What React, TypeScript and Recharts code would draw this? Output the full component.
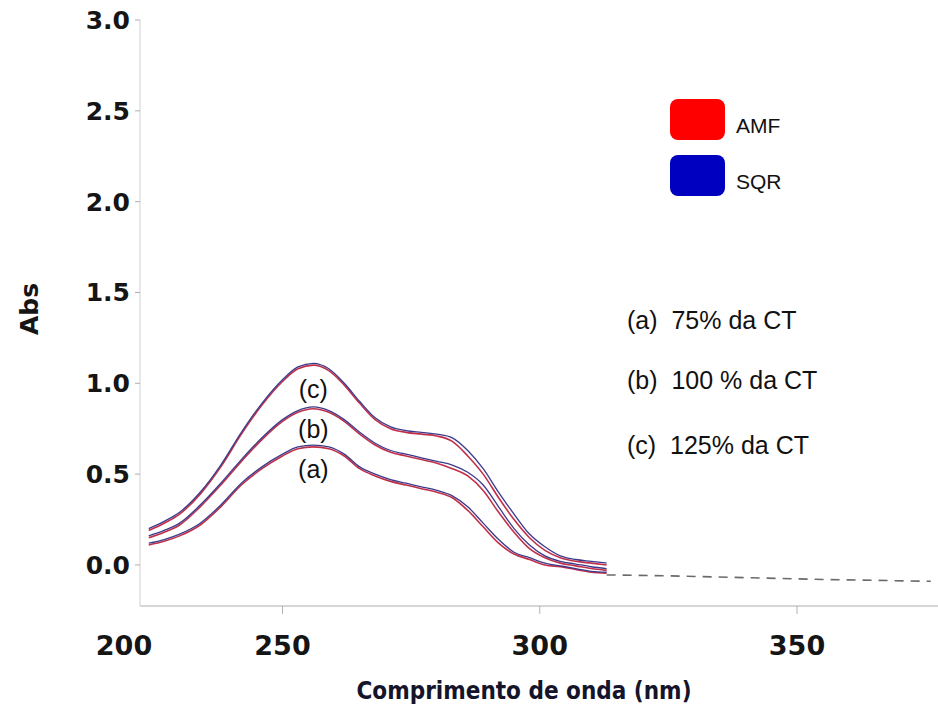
import React from 'react';
import { LineChart, Line, XAxis, YAxis, ReferenceDot, Label } from 'recharts';

// UV spectra (absorbance vs wavelength) at three concentrations, two solutions each
const WAVELENGTH = [224, 227, 230, 234, 238, 242, 246, 250, 253, 256, 259, 262, 265, 268, 271, 274, 277, 280, 283, 286, 289, 292, 295, 298, 301, 304, 307, 310, 313];

const AMF_A = [0.11, 0.13, 0.16, 0.22, 0.32, 0.44, 0.53, 0.60, 0.64, 0.65, 0.64, 0.60, 0.53, 0.49, 0.46, 0.44, 0.42, 0.40, 0.37, 0.30, 0.21, 0.12, 0.06, 0.03, 0.00, -0.01, -0.025, -0.04, -0.045];
const SQR_A = [0.12, 0.14, 0.17, 0.23, 0.33, 0.45, 0.54, 0.61, 0.65, 0.66, 0.65, 0.61, 0.54, 0.50, 0.47, 0.45, 0.43, 0.41, 0.38, 0.32, 0.23, 0.14, 0.07, 0.04, 0.01, -0.005, -0.02, -0.035, -0.04];

const AMF_B = [0.15, 0.18, 0.22, 0.32, 0.44, 0.57, 0.69, 0.79, 0.84, 0.86, 0.84, 0.79, 0.72, 0.66, 0.62, 0.60, 0.58, 0.56, 0.53, 0.49, 0.41, 0.29, 0.18, 0.09, 0.04, 0.01, -0.005, -0.02, -0.03];
const SQR_B = [0.16, 0.19, 0.23, 0.33, 0.45, 0.58, 0.70, 0.80, 0.85, 0.87, 0.85, 0.80, 0.73, 0.67, 0.63, 0.61, 0.59, 0.57, 0.55, 0.51, 0.44, 0.32, 0.20, 0.11, 0.05, 0.02, 0.005, -0.01, -0.02];

const AMF_C = [0.19, 0.23, 0.28, 0.39, 0.54, 0.72, 0.88, 1.01, 1.08, 1.10, 1.07, 0.99, 0.89, 0.80, 0.75, 0.73, 0.72, 0.71, 0.68, 0.60, 0.50, 0.37, 0.25, 0.15, 0.08, 0.04, 0.02, 0.01, 0.00];
const SQR_C = [0.20, 0.24, 0.29, 0.40, 0.55, 0.73, 0.89, 1.02, 1.09, 1.11, 1.08, 1.00, 0.90, 0.81, 0.76, 0.74, 0.73, 0.72, 0.70, 0.63, 0.53, 0.40, 0.28, 0.17, 0.10, 0.05, 0.03, 0.02, 0.01];

// instrument baseline after the scan ends
const BASELINE_NM = [313, 325, 340, 355, 376];
const BASELINE_ABS = [-0.055, -0.06, -0.07, -0.08, -0.09];

const Y_TICKS = [0, 0.5, 1, 1.5, 2, 2.5, 3];
const X_TICKS = [250, 300, 350];
const X_START_LABEL = '200';
const X_DOMAIN: [number, number] = [222.3, 377.4];
const Y_DOMAIN: [number, number] = [-0.226, 3.0];

const CURVE_TAGS = [
  { tag: '(a)', nm: 256, abs: 0.53 },
  { tag: '(b)', nm: 256, abs: 0.75 },
  { tag: '(c)', nm: 256, abs: 0.97 },
];

const NOTES = ['(a)  75% da CT', '(b)  100 % da CT', '(c)  125% da CT'];

const SERIES = [
  { name: 'AMF', swatch: '#ff0000', stroke: '#c0304a' },
  { name: 'SQR', swatch: '#0000c0', stroke: '#3e3a8a' },
];

const CURVES = [
  { id: 'amf-a', values: AMF_A, series: 0 },
  { id: 'amf-b', values: AMF_B, series: 0 },
  { id: 'amf-c', values: AMF_C, series: 0 },
  { id: 'sqr-a', values: SQR_A, series: 1 },
  { id: 'sqr-b', values: SQR_B, series: 1 },
  { id: 'sqr-c', values: SQR_C, series: 1 },
];

const toRows = (xs: number[], ys: number[]) => xs.map((nm, i) => ({ nm, abs: ys[i] }));

const BOLD_FONT = '"DejaVu Sans", Verdana, sans-serif';
const TEXT_FONT = '"Liberation Sans", Arial, sans-serif';

const YTick = (props: any) => {
  const { x, y, payload } = props;
  return (
    <text x={x} y={y} dy="0.36em" textAnchor="end" fontFamily={BOLD_FONT} fontWeight="bold" fontSize={25} fill="#151515">
      {Number(payload.value).toFixed(1)}
    </text>
  );
};

const XTick = (props: any) => {
  const { x, y, payload } = props;
  return (
    <text x={x} y={y} dy="0.71em" textAnchor="middle" fontFamily={BOLD_FONT} fontWeight="bold" fontSize={27} fill="#151515">
      {payload.value}
    </text>
  );
};

const AXIS_X_FALLBACK = { x: 140, y: 606, width: 798, height: 103 };
const AXIS_Y_FALLBACK = { x: 0, y: 20, width: 140, height: 586 };

const StartLabel = (props: any) => {
  const vb = props.viewBox ?? AXIS_X_FALLBACK;
  return (
    <text x={vb.x - 16} y={vb.y + 30} dy="0.71em" textAnchor="middle" fontFamily={BOLD_FONT} fontWeight="bold" fontSize={27} fill="#151515">
      {X_START_LABEL}
    </text>
  );
};

const XTitle = (props: any) => {
  const vb = props.viewBox ?? AXIS_X_FALLBACK;
  return (
    <text
      x={vb.x + vb.width / 2 - 15}
      y={vb.y + 93}
      textAnchor="middle"
      fontFamily={BOLD_FONT}
      fontWeight="bold"
      fontSize={24}
      fill="#14142a"
      textLength={335}
      lengthAdjust="spacingAndGlyphs"
    >
      Comprimento de onda (nm)
    </text>
  );
};

const YTitle = (props: any) => {
  const vb = props.viewBox ?? AXIS_Y_FALLBACK;
  const cx = vb.x + 29;
  const cy = vb.y + vb.height / 2 - 4;
  return (
    <text
      x={cx}
      y={cy}
      dy="0.36em"
      textAnchor="middle"
      transform={`rotate(-90, ${cx}, ${cy})`}
      fontFamily={BOLD_FONT}
      fontWeight="bold"
      fontSize={25}
      fill="#151515"
    >
      Abs
    </text>
  );
};

const SwatchLegend = () => (
  <div style={{ position: 'absolute', left: 670, top: 99, display: 'flex', flexDirection: 'column', gap: 15 }}>
    {SERIES.map((s) => (
      <div key={s.name} style={{ display: 'flex', alignItems: 'center', height: 41 }}>
        <div style={{ width: 55, height: 41, borderRadius: 8, background: s.swatch }} />
        <span style={{ marginLeft: 11, paddingTop: 12, fontFamily: TEXT_FONT, fontSize: 21, color: '#111' }}>{s.name}</span>
      </div>
    ))}
  </div>
);

export default function App() {
  return (
    <div style={{ position: 'absolute', left: 0, top: 0, width: 938, height: 709, background: '#fff' }}>
      <LineChart width={938} height={709} margin={{ top: 20, right: 0, bottom: 0, left: 0 }}>
        <XAxis
          type="number"
          dataKey="nm"
          domain={X_DOMAIN}
          allowDataOverflow
          ticks={X_TICKS}
          tick={<XTick />}
          tickSize={8}
          tickMargin={22}
          height={103}
          axisLine={{ stroke: '#c8c8c8', strokeWidth: 1.5 }}
          tickLine={{ stroke: '#b0b0b0' }}
        >
          <Label content={<StartLabel />} />
          <Label content={<XTitle />} />
        </XAxis>
        <YAxis
          type="number"
          domain={Y_DOMAIN}
          allowDataOverflow
          ticks={Y_TICKS}
          tick={<YTick />}
          tickSize={5}
          tickMargin={5}
          width={140}
          axisLine={{ stroke: '#d8d8d8', strokeWidth: 1.2 }}
          tickLine={{ stroke: '#b0b0b0' }}
        >
          <Label content={<YTitle />} />
        </YAxis>
        <Line
          data={toRows(BASELINE_NM, BASELINE_ABS)}
          dataKey="abs"
          stroke="#6a6a6a"
          strokeWidth={1.6}
          strokeDasharray="9 7"
          dot={false}
          legendType="none"
          isAnimationActive={false}
        />
        {CURVES.map((c) => (
          <Line
            key={c.id}
            data={toRows(WAVELENGTH, c.values)}
            dataKey="abs"
            type="monotone"
            stroke={SERIES[c.series].stroke}
            strokeWidth={c.series === 0 ? 1.6 : 1.3}
            dot={false}
            name={SERIES[c.series].name}
            isAnimationActive={false}
          />
        ))}
        {CURVE_TAGS.map((t) => (
          <ReferenceDot
            key={t.tag}
            x={t.nm}
            y={t.abs}
            r={0}
            fill="none"
            stroke="none"
            label={{ value: t.tag, position: 'center', fontSize: 25, fill: '#111', fontFamily: TEXT_FONT }}
          />
        ))}
      </LineChart>
      <SwatchLegend />
      {NOTES.map((n, i) => (
        <div
          key={n}
          style={{
            position: 'absolute',
            left: 627,
            top: [308, 368, 433][i],
            fontFamily: TEXT_FONT,
            fontSize: 25,
            lineHeight: '25px',
            whiteSpace: 'pre',
            color: '#111',
          }}
        >
          {n}
        </div>
      ))}
    </div>
  );
}
